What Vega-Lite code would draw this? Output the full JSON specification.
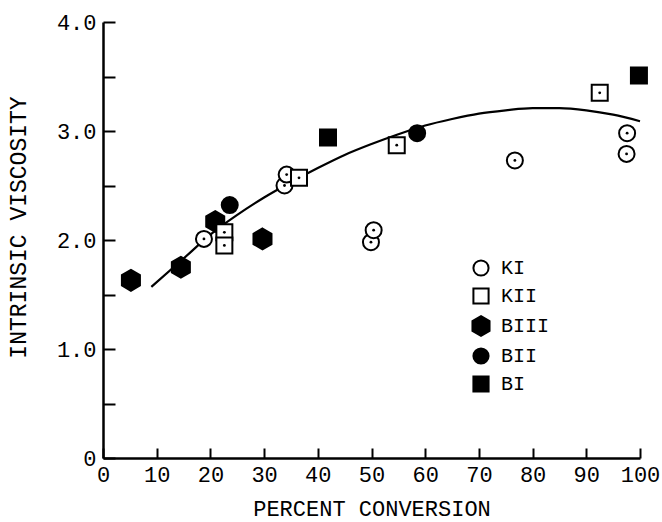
{
  "$schema": "https://vega.github.io/schema/vega-lite/v6.json",
  "width": 537,
  "height": 436,
  "autosize": {"type": "none"},
  "padding": {"left": 103, "top": 22, "right": 22, "bottom": 64},
  "background": "white",
  "config": {
    "view": {"stroke": null},
    "font": "Liberation Mono",
    "axis": {
      "domainColor": "black",
      "domainWidth": 2.5,
      "tickColor": "black",
      "tickWidth": 2,
      "labelColor": "black",
      "labelFont": "Liberation Mono",
      "labelFontSize": 22,
      "titleFont": "Liberation Mono",
      "titleFontSize": 22,
      "titleFontWeight": "normal",
      "titleColor": "black",
      "grid": false,
      "labelFlush": false,
      "labelOverlap": false
    },
    "legend": {
      "orient": "none",
      "legendX": 368,
      "legendY": 236,
      "title": null,
      "labelFont": "Liberation Mono",
      "labelFontSize": 20,
      "labelColor": "black",
      "symbolSize": 230,
      "symbolStrokeWidth": 2,
      "rowPadding": 4,
      "labelOffset": 10,
      "padding": 0
    }
  },
  "datasets": {
    "pts": [
      {"s": "BIII", "x": 5.2, "y": 1.63},
      {"s": "BIII", "x": 14.5, "y": 1.75},
      {"s": "BIII", "x": 20.9, "y": 2.17},
      {"s": "BIII", "x": 29.7, "y": 2.01},
      {"s": "BII", "x": 23.6, "y": 2.32},
      {"s": "BII", "x": 58.5, "y": 2.98},
      {"s": "BI", "x": 41.9, "y": 2.94},
      {"s": "BI", "x": 99.8, "y": 3.51},
      {"s": "KI", "x": 18.8, "y": 2.01},
      {"s": "KI", "x": 33.8, "y": 2.5},
      {"s": "KI", "x": 34.2, "y": 2.6},
      {"s": "KI", "x": 49.9, "y": 1.98},
      {"s": "KI", "x": 50.4, "y": 2.09},
      {"s": "KI", "x": 76.7, "y": 2.73},
      {"s": "KI", "x": 97.6, "y": 2.98},
      {"s": "KI", "x": 97.5, "y": 2.79},
      {"s": "KII", "x": 22.6, "y": 2.07},
      {"s": "KII", "x": 22.6, "y": 1.95},
      {"s": "KII", "x": 36.5, "y": 2.57},
      {"s": "KII", "x": 54.7, "y": 2.87},
      {"s": "KII", "x": 92.5, "y": 3.35}
    ],
    "curve": [
      {"x": 9, "y": 1.57},
      {"x": 15, "y": 1.83},
      {"x": 20, "y": 2.05},
      {"x": 25, "y": 2.23},
      {"x": 30, "y": 2.39},
      {"x": 35, "y": 2.53},
      {"x": 40, "y": 2.66},
      {"x": 45, "y": 2.78},
      {"x": 50, "y": 2.88},
      {"x": 55, "y": 2.97},
      {"x": 60, "y": 3.05},
      {"x": 65, "y": 3.11},
      {"x": 70, "y": 3.16},
      {"x": 75, "y": 3.19},
      {"x": 80, "y": 3.21},
      {"x": 85, "y": 3.21},
      {"x": 90, "y": 3.19},
      {"x": 95, "y": 3.15},
      {"x": 100, "y": 3.09}
    ]
  },
  "encoding": {
    "x": {
      "field": "x",
      "type": "quantitative",
      "scale": {"domain": [0, 100], "nice": false, "zero": false},
      "axis": {
        "values": [0, 10, 20, 30, 40, 50, 60, 70, 80, 90, 100],
        "tickSize": -10,
        "labelPadding": 16,
        "title": "PERCENT CONVERSION",
        "titleY": 50,
        "titleBaseline": "middle"
      }
    },
    "y": {
      "field": "y",
      "type": "quantitative",
      "scale": {"domain": [0, 4], "nice": false, "zero": false},
      "axis": {
        "values": [0, 0.5, 1, 1.5, 2, 2.5, 3, 3.5, 4],
        "labelExpr": "datum.value % 1 == 0 ? (datum.value == 0 ? '0' : format(datum.value, '.1f')) : ''",
        "tickSize": -12,
        "labelPadding": 19,
        "title": "INTRINSIC VISCOSITY",
        "titleX": -85,
        "titleY": 205,
        "titleFontSize": 23,
        "titleAngle": 270,
        "titleAlign": "center",
        "titleBaseline": "middle"
      }
    }
  },
  "layer": [
    {
      "data": {"name": "curve"},
      "mark": {"type": "line", "color": "black", "strokeWidth": 2.2, "interpolate": "monotone"}
    },
    {
      "data": {"name": "pts"},
      "mark": {"type": "point", "strokeWidth": 2, "opacity": 1, "fillOpacity": 1, "size": 256},
      "encoding": {
        "shape": {
          "field": "s",
          "type": "nominal",
          "scale": {
            "domain": ["KI", "KII", "BIII", "BII", "BI"],
            "range": ["circle", "square", "M0,-1.3L1.126,-0.65L1.126,0.65L0,1.3L-1.126,0.65L-1.126,-0.65Z", "circle", "square"]
          }
        },
        "fill": {
          "field": "s",
          "type": "nominal",
          "scale": {
            "domain": ["KI", "KII", "BIII", "BII", "BI"],
            "range": ["white", "white", "black", "black", "black"]
          }
        },
        "stroke": {
          "field": "s",
          "type": "nominal",
          "scale": {
            "domain": ["KI", "KII", "BIII", "BII", "BI"],
            "range": ["black", "black", "black", "black", "black"]
          }
        }
      }
    },
    {
      "data": {"name": "pts"},
      "transform": [{"filter": {"field": "s", "oneOf": ["KI", "KII"]}}],
      "mark": {"type": "point", "filled": true, "color": "black", "size": 8, "opacity": 1}
    }
  ]
}
